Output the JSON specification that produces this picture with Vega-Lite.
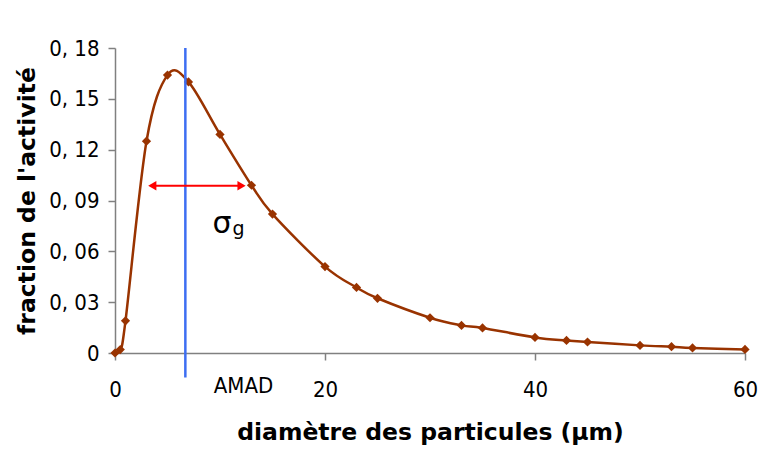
{
  "$schema": "https://vega.github.io/schema/vega-lite/v6.json",
  "autosize": {"type": "none"},
  "width": 630,
  "height": 305,
  "padding": {"left": 115, "top": 48, "right": 20, "bottom": 103},
  "background": "white",
  "config": {
    "view": {"stroke": null},
    "font": "DejaVu Sans Condensed",
    "axis": {
      "labelFont": "DejaVu Sans Condensed",
      "titleFont": "DejaVu Sans",
      "labelFontSize": 22,
      "titleFontSize": 23.5,
      "titleFontWeight": "bold",
      "labelColor": "#000",
      "titleColor": "#000",
      "domainColor": "#808080",
      "tickColor": "#808080",
      "domainWidth": 1.5,
      "tickWidth": 1.5,
      "grid": false
    }
  },
  "datasets": {
    "curve": [
      {"d": 0, "f": 0},
      {"d": 0.5, "f": 0.002},
      {"d": 1, "f": 0.019},
      {"d": 3, "f": 0.125},
      {"d": 5, "f": 0.164},
      {"d": 7, "f": 0.16},
      {"d": 10, "f": 0.129},
      {"d": 13, "f": 0.099},
      {"d": 15, "f": 0.082},
      {"d": 20, "f": 0.051},
      {"d": 23, "f": 0.0387},
      {"d": 25, "f": 0.0323},
      {"d": 30, "f": 0.0208},
      {"d": 33, "f": 0.0163},
      {"d": 35, "f": 0.0148},
      {"d": 40, "f": 0.0092},
      {"d": 43, "f": 0.0074},
      {"d": 45, "f": 0.0065},
      {"d": 50, "f": 0.0045},
      {"d": 53, "f": 0.0037},
      {"d": 55, "f": 0.003},
      {"d": 60, "f": 0.0021}
    ]
  },
  "layer": [
    {
      "data": {"name": "curve"},
      "mark": {"type": "line", "interpolate": "cardinal", "color": "#993300", "strokeWidth": 2.5,
               "point": {"shape": "diamond", "size": 85, "filled": true, "color": "#993300", "opacity": 1}},
      "encoding": {
        "x": {"field": "d", "type": "quantitative",
              "scale": {"domain": [0, 60], "nice": false, "zero": true},
              "axis": {"values": [0, 20, 40, 60], "title": "diamètre des particules (µm)",
                       "tickSize": 7, "labelPadding": 19, "titlePadding": 20, "labelFlush": false}},
        "y": {"field": "f", "type": "quantitative",
              "scale": {"domain": [0, 0.18], "nice": false},
              "axis": {"values": [0, 0.03, 0.06, 0.09, 0.12, 0.15, 0.18], "title": "fraction de l'activité",
                       "tickSize": 7, "labelPadding": 9, "titlePadding": 9,
                       "labelExpr": "datum.value == 0 ? '0' : replace(format(datum.value, '.2f'), '.', ', ')"}}
      }
    },
    {
      "data": {"values": [{"x": 6.7, "y": 0.18, "y2": -0.0145}]},
      "mark": {"type": "rule", "color": "#3d6ef2", "strokeWidth": 2.5},
      "encoding": {
        "x": {"field": "x", "type": "quantitative"},
        "y": {"field": "y", "type": "quantitative"},
        "y2": {"field": "y2"}
      }
    },
    {
      "data": {"values": [{"x": 3.4, "x2": 12.2, "y": 0.0987}]},
      "mark": {"type": "rule", "color": "#ff0000", "strokeWidth": 2},
      "encoding": {
        "x": {"field": "x", "type": "quantitative"},
        "x2": {"field": "x2"},
        "y": {"field": "y", "type": "quantitative"}
      }
    },
    {
      "data": {"values": [{"x": 3.55, "y": 0.0987, "s": "triangle-left"}, {"x": 12.05, "y": 0.0987, "s": "triangle-right"}]},
      "mark": {"type": "point", "filled": true, "color": "#ff0000", "size": 90, "opacity": 1},
      "encoding": {
        "x": {"field": "x", "type": "quantitative"},
        "y": {"field": "y", "type": "quantitative"},
        "shape": {"field": "s", "type": "nominal", "scale": null}
      }
    },
    {
      "data": {"values": [{"x": 10.19, "y": 0.0708, "t": "σ"}]},
      "mark": {"type": "text", "fontSize": 30, "align": "center", "baseline": "alphabetic", "font": "DejaVu Sans", "color": "#000"},
      "encoding": {
        "x": {"field": "x", "type": "quantitative"},
        "y": {"field": "y", "type": "quantitative"},
        "text": {"field": "t"}
      }
    },
    {
      "data": {"values": [{"x": 11.2, "y": 0.0696, "t": "g"}]},
      "mark": {"type": "text", "fontSize": 19, "align": "left", "baseline": "alphabetic", "font": "DejaVu Sans", "color": "#000"},
      "encoding": {
        "x": {"field": "x", "type": "quantitative"},
        "y": {"field": "y", "type": "quantitative"},
        "text": {"field": "t"}
      }
    },
    {
      "data": {"values": [{"x": 12.24, "y": -0.0197, "t": "AMAD"}]},
      "mark": {"type": "text", "fontSize": 22, "align": "center", "baseline": "middle", "font": "DejaVu Sans Condensed", "color": "#000"},
      "encoding": {
        "x": {"field": "x", "type": "quantitative"},
        "y": {"field": "y", "type": "quantitative"},
        "text": {"field": "t"}
      }
    }
  ]
}
